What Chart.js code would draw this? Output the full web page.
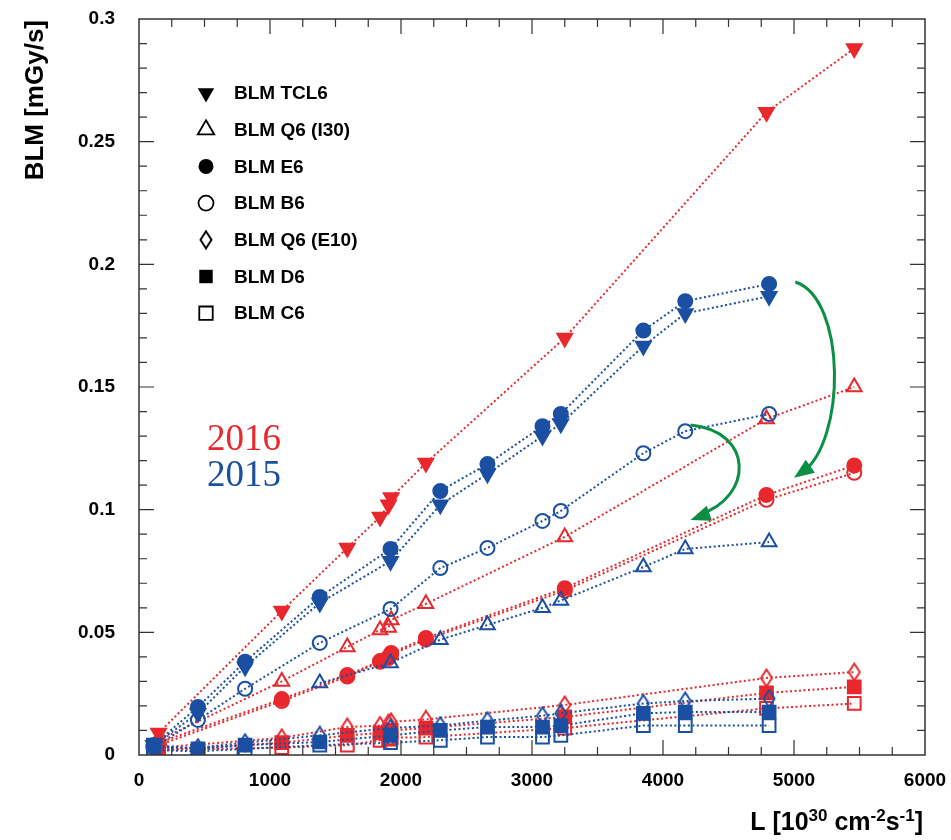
<!DOCTYPE html>
<html>
<head>
<meta charset="utf-8">
<script src="https://cdn.jsdelivr.net/npm/chart.js@4.4.1/dist/chart.umd.min.js"></script>
<style>
  html,body{margin:0;padding:0;background:#fff;}
  #wrap{width:951px;height:840px;}
</style>
</head>
<body>
<div id="wrap"><canvas id="chart" width="951" height="840"></canvas></div>
<script>
// Luminosity values (10^30 cm^-2 s^-1) of the fills
const lumi2016 = [150, 1090, 1590, 1840, 1905, 1925, 2190, 3250, 4790, 5460];
const lumi2015 = [110, 450, 810, 1380, 1920, 2300, 2660, 3080, 3220, 3850, 4170, 4810];

// BLM signals in mGy/s, 2016
const tcl6_2016 = [0.009, 0.0587, 0.0844, 0.097, 0.102, 0.105, 0.119, 0.170, 0.262, 0.288];
const q6i30_2016 = [0.006, 0.030, 0.044, 0.051, 0.052, 0.055, 0.0616, 0.0889, 0.137, 0.150];
const e6_2016 = [0.005, 0.0228, 0.0326, 0.0383, 0.040, 0.0416, 0.0477, 0.068, 0.106, 0.118];
const b6_2016 = [0.004, 0.022, 0.032, 0.038, 0.0395, 0.041, 0.047, 0.067, 0.104, 0.115];
const q6e10_2016 = [0.003, 0.007, 0.0114, 0.012, 0.013, 0.0135, 0.0145, 0.0204, 0.0314, 0.0338];
const d6_2016 = [0.002, 0.005, 0.008, 0.009, 0.0095, 0.010, 0.011, 0.0155, 0.0253, 0.0278];
const c6_2016 = [0.002, 0.003, 0.004, 0.006, 0.0065, 0.007, 0.0073, 0.011, 0.019, 0.021];

// BLM signals in mGy/s, 2015
const tcl6_2015 = [0.004, 0.017, 0.036, 0.062, 0.079, 0.102, 0.1146, 0.130, 0.135, 0.1667, 0.180, 0.187];
const q6i30_2015 = [null, null, null, 0.0293, 0.0375, 0.047, 0.053, 0.060, 0.063, 0.0766, 0.084, 0.0868];
const e6_2015 = [0.004, 0.0196, 0.038, 0.0644, 0.084, 0.1076, 0.1186, 0.134, 0.139, 0.173, 0.185, 0.192];
const b6_2015 = [0.003, 0.0143, 0.027, 0.0457, 0.0595, 0.0762, 0.0844, 0.0954, 0.0995, 0.123, 0.132, 0.139];
const q6e10_2015 = [0.003, 0.003, 0.005, 0.008, 0.011, 0.012, 0.014, 0.016, 0.017, 0.021, 0.022, 0.023];
const d6_2015 = [0.004, 0.0025, 0.004, 0.0053, 0.008, 0.010, 0.0114, 0.0114, 0.012, 0.017, 0.0175, 0.0175];
const c6_2015 = [0.002, 0.0015, 0.0025, 0.004, 0.005, 0.006, 0.0073, 0.0073, 0.008, 0.012, 0.012, 0.012];

const seriesNames = ['BLM TCL6', 'BLM Q6 (I30)', 'BLM E6', 'BLM B6', 'BLM Q6 (E10)', 'BLM D6', 'BLM C6'];
const yearLabels = ['2016', '2015'];

// axis ticks
const xTickStep = 1000, xMinorStep = 250;
const yTickStep = 0.05, yMinorStep = 0.01;

// green arrows (start, control 1, control 2, tip) in data units
const arrowE6 = [[5010, 0.1928], [5400, 0.186], [5400, 0.128], [5000, 0.113]];
const arrowB6 = [[4210, 0.1345], [4695, 0.132], [4695, 0.105], [4210, 0.0958]];

const RED = '#e8282c', BLUE = '#1a4fa2', GREEN = '#0b8f44';

function makeDiamond(color){
  const c = document.createElement('canvas');
  c.width = 14; c.height = 20;
  const g = c.getContext('2d');
  g.strokeStyle = color; g.lineWidth = 2;
  g.beginPath();
  g.moveTo(7, 1.5); g.lineTo(12.5, 10); g.lineTo(7, 18.5); g.lineTo(1.5, 10); g.closePath();
  g.stroke();
  return c;
}

// marker per BLM (same order as seriesNames)
const markers = [
  {style:'triangle', rot:180, r:8.5, filled:true},
  {style:'triangle', rot:0, r:8.5, filled:false},
  {style:'circle', rot:0, r:7, filled:true},
  {style:'circle', rot:0, r:7, filled:false},
  {style:'diamond', rot:0, r:8, filled:false},
  {style:'rect', rot:0, r:9, filled:true},
  {style:'rect', rot:0, r:9, filled:false}
];

function pts(xs, ys){
  return xs.map((x, i) => ({x: x, y: ys[i]})).filter(p => p.y != null);
}

function makeSet(name, idx, xs, ys, color){
  const m = markers[idx];
  return {
    label: name,
    data: pts(xs, ys),
    showLine: true,
    borderColor: color,
    borderWidth: 2,
    borderDash: [2, 2.5],
    tension: 0,
    pointStyle: m.style === 'diamond' ? makeDiamond(color) : m.style,
    pointRotation: m.rot,
    pointRadius: m.r,
    pointHoverRadius: m.r,
    pointBorderWidth: 2,
    pointBorderColor: color,
    pointBackgroundColor: m.filled ? color : 'rgba(0,0,0,0)'
  };
}

const s2016 = [tcl6_2016, q6i30_2016, e6_2016, b6_2016, q6e10_2016, d6_2016, c6_2016];
const s2015 = [tcl6_2015, q6i30_2015, e6_2015, b6_2015, q6e10_2015, d6_2015, c6_2015];

const datasets = [];
s2015.forEach((ys, i) => datasets.push(makeSet(seriesNames[i] + ' 2015', i, lumi2015, ys, BLUE)));
s2016.forEach((ys, i) => datasets.push(makeSet(seriesNames[i] + ' 2016', i, lumi2016, ys, RED)));

const FONT = '"Liberation Sans", Arial, Helvetica, sans-serif';
Chart.defaults.font.family = FONT;
Chart.defaults.color = '#000';

// no extra room for the end tick labels, the padding below decides the frame
function noPad(s){ s.paddingTop = 0; s.paddingBottom = 0; s.paddingLeft = 0; s.paddingRight = 0; }

// frame, inward ticks, legend, labels, arrows
const decoPlugin = {
  id: 'deco',
  afterDraw(chart){
    const {ctx, chartArea: a, scales: {x, y}} = chart;
    ctx.save();

    // frame
    ctx.strokeStyle = '#333';
    ctx.lineWidth = 1.5;
    ctx.strokeRect(a.left, a.top, a.right - a.left, a.bottom - a.top);

    ctx.lineWidth = 1.2;
    ctx.beginPath();
    for (let v = xMinorStep; v < 6000; v += xMinorStep){
      const px = x.getPixelForValue(v);
      const len = v % xTickStep === 0 ? 15 : 8;
      ctx.moveTo(px, a.bottom); ctx.lineTo(px, a.bottom - len);
      ctx.moveTo(px, a.top); ctx.lineTo(px, a.top + len);
    }
    for (let i = 1; i < 30; i++){
      const py = y.getPixelForValue(i * yMinorStep);
      const len = i % 5 === 0 ? 15 : 8;
      ctx.moveTo(a.left, py); ctx.lineTo(a.left + len, py);
      ctx.moveTo(a.right, py); ctx.lineTo(a.right - len, py);
    }
    ctx.stroke();

    // legend
    ctx.font = 'bold 19px ' + FONT;
    ctx.textBaseline = 'middle';
    ctx.textAlign = 'left';
    seriesNames.forEach((name, i) => {
      const m = markers[i];
      const ly = a.top + 74 + i * 36.7;
      const lx = a.left + 67;
      ctx.fillStyle = m.filled ? '#000' : '#fff';
      ctx.strokeStyle = '#000';
      ctx.lineWidth = 1.8;
      if (m.style === 'diamond'){
        const img = makeDiamond('#000');
        ctx.drawImage(img, lx - 7, ly - 10);
      } else {
        const rr = m.style === 'circle' ? 7.5 : 9.5;
        Chart.helpers.drawPoint(ctx, {pointStyle: m.style, rotation: m.rot, radius: rr, borderWidth: m.filled ? 0 : 1.8}, lx, ly);
      }
      ctx.fillStyle = '#000';
      ctx.fillText(name, a.left + 95, ly + 1);
    });

    // year labels
    ctx.font = '37px "Liberation Serif", "Times New Roman", serif';
    ctx.textBaseline = 'alphabetic';
    ctx.fillStyle = RED;
    ctx.fillText(yearLabels[0], a.left + 68, a.top + 431);
    ctx.fillStyle = BLUE;
    ctx.fillText(yearLabels[1], a.left + 68, a.top + 467);

    // green arrows
    [arrowE6, arrowB6].forEach(ar => {
      const p = ar.map(q => [x.getPixelForValue(q[0]), y.getPixelForValue(q[1])]);
      ctx.strokeStyle = GREEN;
      ctx.fillStyle = GREEN;
      ctx.lineWidth = 3;
      ctx.beginPath();
      ctx.moveTo(p[0][0], p[0][1]);
      ctx.bezierCurveTo(p[1][0], p[1][1], p[2][0], p[2][1], p[3][0] + 8, p[3][1] - 5);
      ctx.stroke();
      const ang = Math.atan2(p[3][1] - p[2][1], p[3][0] - p[2][0]);
      const L = 20, W = 8;
      ctx.beginPath();
      ctx.moveTo(p[3][0], p[3][1]);
      ctx.lineTo(p[3][0] - L * Math.cos(ang) + W * Math.sin(ang), p[3][1] - L * Math.sin(ang) - W * Math.cos(ang));
      ctx.lineTo(p[3][0] - L * Math.cos(ang) - W * Math.sin(ang), p[3][1] - L * Math.sin(ang) + W * Math.cos(ang));
      ctx.closePath();
      ctx.fill();
    });

    // y title
    ctx.fillStyle = '#000';
    ctx.save();
    ctx.translate(43, a.top + 1);
    ctx.rotate(-Math.PI / 2);
    ctx.font = 'bold 26px ' + FONT;
    ctx.textAlign = 'right';
    ctx.textBaseline = 'alphabetic';
    ctx.fillText('BLM [mGy/s]', 0, 0);
    ctx.restore();

    // x title with superscripts
    const parts = [['L [10', 0], ['30', 1], [' cm', 0], ['-2', 1], ['s', 0], ['-1', 1], [']', 0]];
    const big = 'bold 25px ' + FONT, small = 'bold 17px ' + FONT;
    let total = 0;
    parts.forEach(pt => { ctx.font = pt[1] ? small : big; total += ctx.measureText(pt[0]).width; });
    let cx = a.right - 2 - total;
    const base = 830;
    ctx.textAlign = 'left';
    parts.forEach(pt => {
      ctx.font = pt[1] ? small : big;
      ctx.fillText(pt[0], cx, pt[1] ? base - 9 : base);
      cx += ctx.measureText(pt[0]).width;
    });

    ctx.restore();
  }
};

new Chart(document.getElementById('chart'), {
  type: 'scatter',
  data: {datasets: datasets},
  options: {
    responsive: false,
    animation: false,
    layout: {padding: {top: 19, right: 26, left: 0, bottom: 0}},
    plugins: {legend: {display: false}, tooltip: {enabled: false}},
    scales: {
      x: {
        type: 'linear', min: 0, max: 6000,
        afterFit: s => { s.height = 85; noPad(s); },
        grid: {display: false, drawTicks: false},
        border: {display: false},
        ticks: {stepSize: xTickStep, autoSkip: false, maxRotation: 0, padding: 14,
          font: {size: 19, weight: 'bold'}, color: '#000',
          callback: v => String(v)}
      },
      y: {
        type: 'linear', min: 0, max: 0.3,
        afterFit: s => { s.width = 139; noPad(s); },
        grid: {display: false, drawTicks: false},
        border: {display: false},
        ticks: {stepSize: yTickStep, autoSkip: false, padding: 24,
          font: {size: 19, weight: 'bold'}, color: '#000',
          callback: v => v === 0 ? '0' : String(+v.toFixed(2))}
      }
    }
  },
  plugins: [decoPlugin]
});
</script>
</body>
</html>
